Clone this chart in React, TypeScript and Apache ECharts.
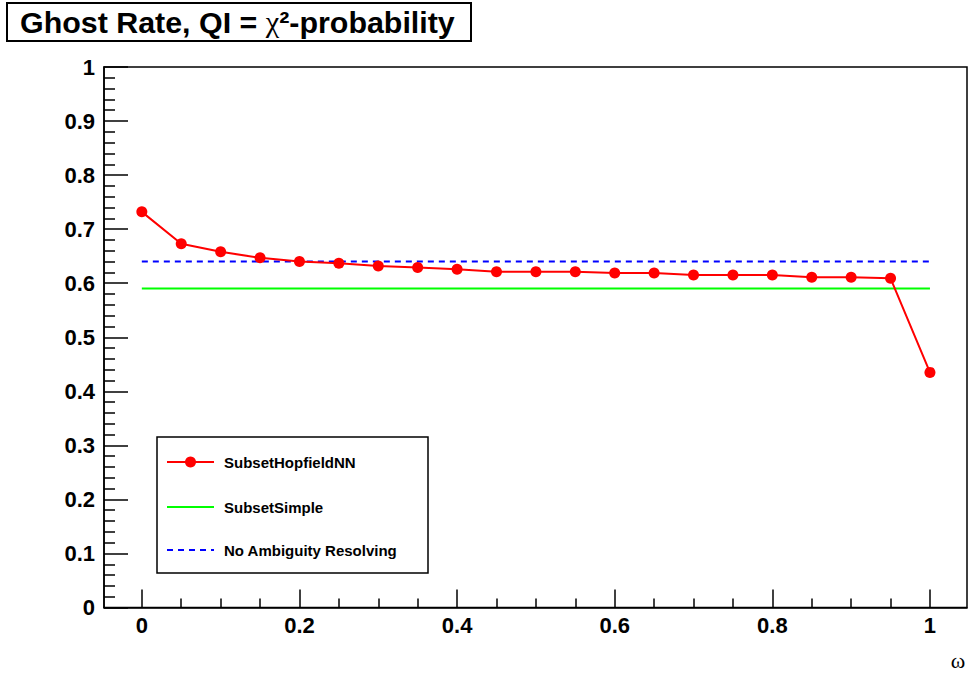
import React, { useEffect, useRef } from "react";
import * as echarts from "echarts";

const omega = [0, 0.05, 0.1, 0.15, 0.2, 0.25, 0.3, 0.35, 0.4, 0.45, 0.5, 0.55, 0.6, 0.65, 0.7, 0.75, 0.8, 0.85, 0.9, 0.95, 1.0];
const hopfield = [0.732, 0.673, 0.658, 0.647, 0.64, 0.637, 0.632, 0.629, 0.626, 0.621, 0.621, 0.621, 0.619, 0.619, 0.615, 0.615, 0.615, 0.611, 0.611, 0.609, 0.435];
const simpleX = [0, 1];
const simpleY = [0.59, 0.59];
const noAmbX = [0, 1];
const noAmbY = [0.64, 0.64];
const xMajorTicks = [0, 0.2, 0.4, 0.6, 0.8, 1];
const xMinorTicks = [0.05, 0.1, 0.15, 0.25, 0.3, 0.35, 0.45, 0.5, 0.55, 0.65, 0.7, 0.75, 0.85, 0.9, 0.95];
const seriesNames = ["SubsetHopfieldNN", "SubsetSimple", "No Ambiguity Resolving"];

const SANS = "Liberation Sans, Arial, Helvetica, sans-serif";
const SERIF = "Liberation Serif, Times New Roman, serif";

export default function App() {
  const ref = useRef<HTMLDivElement>(null);
  useEffect(() => {
    if (!ref.current) return;
    const chart = echarts.init(ref.current, undefined, { renderer: "svg" });
    const xMin = -0.048;
    const xMax = 1.047;
    const fmt = (v: number) => (v === 0 || v === 1 ? String(v) : v.toFixed(1));

    // legend drawn with graphic elements
    const lgX = 157, lgY = 437, lgW = 271, lgH = 136;
    const rowY = [462, 507, 550];
    const lineX1 = 167, lineX2 = 214, textX = 224;
    const legendGraphics: any[] = [
      {
        type: "rect",
        shape: { x: lgX, y: lgY, width: lgW, height: lgH },
        style: { fill: "#fff", stroke: "#000", lineWidth: 1.5 },
        z: 20,
      },
      {
        type: "line",
        shape: { x1: lineX1, y1: rowY[0], x2: lineX2, y2: rowY[0] },
        style: { stroke: "#ff0000", lineWidth: 2 },
        z: 21,
      },
      {
        type: "circle",
        shape: { cx: (lineX1 + lineX2) / 2, cy: rowY[0], r: 5.5 },
        style: { fill: "#ff0000" },
        z: 22,
      },
      {
        type: "line",
        shape: { x1: lineX1, y1: rowY[1], x2: lineX2, y2: rowY[1] },
        style: { stroke: "#00ff00", lineWidth: 2 },
        z: 21,
      },
      {
        type: "line",
        shape: { x1: lineX1, y1: rowY[2], x2: lineX2, y2: rowY[2] },
        style: { stroke: "#0000ff", lineWidth: 2, lineDash: [6, 5] },
        z: 21,
      },
    ];
    seriesNames.forEach((n, i) => {
      legendGraphics.push({
        type: "text",
        x: textX,
        y: rowY[i],
        z: 22,
        style: {
          text: n,
          fontFamily: SANS,
          fontWeight: "bold",
          fontSize: 15,
          fill: "#000",
          verticalAlign: "middle",
        },
      });
    });

    chart.setOption({
      animation: false,
      backgroundColor: "#ffffff",
      grid: {
        left: 104,
        top: 67,
        right: 3,
        bottom: 67.5,
        show: true,
        borderColor: "#000",
        borderWidth: 1.5,
        backgroundColor: "transparent",
      },
      xAxis: [
        {
          type: "value",
          min: xMin,
          max: xMax,
          position: "bottom",
          axisLine: { show: true, onZero: false, lineStyle: { color: "#000", width: 1.5 } },
          axisTick: { show: true, inside: true, length: 18, customValues: xMajorTicks, lineStyle: { color: "#000", width: 1.5 } },
          axisLabel: {
            show: true,
            customValues: xMajorTicks,
            formatter: (v: number) => fmt(v),
            color: "#000",
            fontFamily: SANS,
            fontWeight: "bold",
            fontSize: 22,
            margin: 7,
          },
          splitLine: { show: false },
        },
        {
          type: "value",
          min: xMin,
          max: xMax,
          position: "bottom",
          axisLine: { show: false, onZero: false },
          axisTick: { show: true, inside: true, length: 9, customValues: xMinorTicks, lineStyle: { color: "#000", width: 1.5 } },
          axisLabel: { show: false },
          splitLine: { show: false },
        },
      ],
      yAxis: {
        type: "value",
        min: 0,
        max: 1,
        interval: 0.1,
        axisLine: { show: true, onZero: false, lineStyle: { color: "#000", width: 1.5 } },
        axisTick: { show: true, inside: true, length: 24, lineStyle: { color: "#000", width: 1.5 } },
        minorTick: { show: true, splitNumber: 5, length: 11, lineStyle: { color: "#000", width: 1.5 } },
        axisLabel: {
          color: "#000",
          fontFamily: SANS,
          fontWeight: "bold",
          fontSize: 22,
          margin: 9,
          formatter: (v: number) => fmt(v),
        },
        splitLine: { show: false },
      },
      series: [
        {
          name: seriesNames[1],
          type: "line",
          xAxisIndex: 0,
          data: simpleX.map((x, i) => [x, simpleY[i]]),
          symbol: "none",
          lineStyle: { color: "#00ff00", width: 2 },
          itemStyle: { color: "#00ff00" },
          z: 2,
        },
        {
          name: seriesNames[2],
          type: "line",
          xAxisIndex: 0,
          data: noAmbX.map((x, i) => [x, noAmbY[i]]),
          symbol: "none",
          lineStyle: { color: "#0000ff", width: 2, type: [6, 5] },
          itemStyle: { color: "#0000ff" },
          z: 2,
        },
        {
          name: seriesNames[0],
          type: "line",
          xAxisIndex: 0,
          data: omega.map((x, i) => [x, hopfield[i]]),
          symbol: "circle",
          symbolSize: 11,
          lineStyle: { color: "#ff0000", width: 2 },
          itemStyle: { color: "#ff0000" },
          z: 3,
        },
      ],
      graphic: [
        {
          type: "rect",
          shape: { x: 7, y: 3, width: 464, height: 38 },
          style: { fill: "#fff", stroke: "#000", lineWidth: 2 },
          z: 10,
        },
        {
          type: "text",
          x: 20,
          y: 22,
          z: 11,
          style: {
            text: "{b|Ghost Rate, QI = }{c|χ}{b|²-probability}",
            verticalAlign: "middle",
            rich: {
              b: { fontFamily: SANS, fontWeight: "bold", fontSize: 30.4, fill: "#000" },
              c: { fontFamily: SERIF, fontSize: 30.4, fill: "#000" },
            },
          },
        },
        {
          type: "text",
          x: 958,
          y: 660,
          z: 11,
          style: {
            text: "ω",
            fontFamily: SERIF,
            fontSize: 22,
            fill: "#000",
            align: "center",
            verticalAlign: "middle",
          },
        },
        ...legendGraphics,
      ],
    });
    return () => chart.dispose();
  }, []);
  return <div ref={ref} style={{ position: "fixed", left: 0, top: 0, width: 970, height: 675 }} />;
}
